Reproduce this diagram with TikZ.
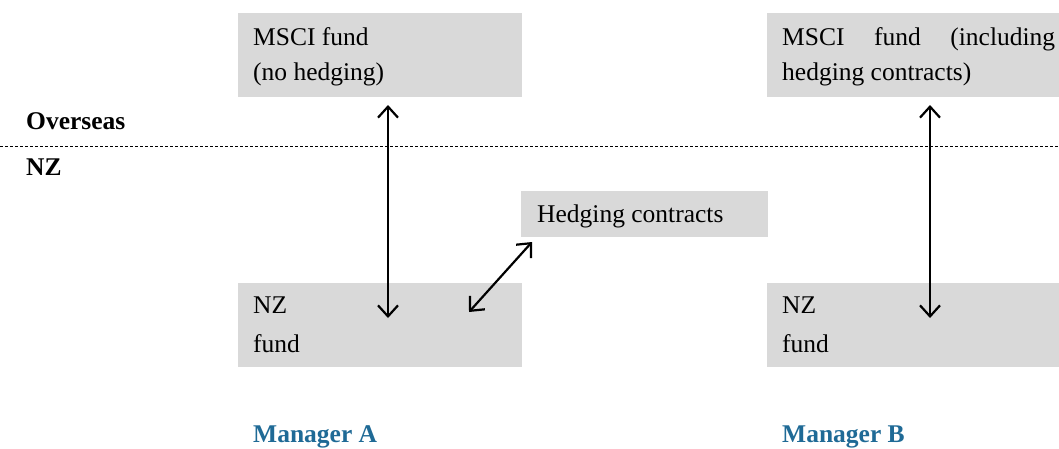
\documentclass[tikz,border=0pt]{standalone}
\usepackage{fontspec}
\setmainfont{Liberation Serif}
\usetikzlibrary{arrows.meta,calc}
\definecolor{boxgray}{RGB}{217,217,217}
\definecolor{mgrblue}{RGB}{31,106,150}
\begin{document}
\begin{tikzpicture}[x=1pt,y=-1pt,
  box/.style={fill=boxgray, draw=none, inner sep=0pt, outer sep=0pt, anchor=north west},
  txt/.style={anchor=base west, inner sep=0pt, font=\fontsize{25.5}{30}\selectfont},
  lbl/.style={anchor=base west, inner sep=0pt, font=\fontsize{25.5}{30}\selectfont\bfseries},
  mgr/.style={lbl, text=mgrblue},
  barb/.tip={Straight Barb[length=11pt,width=20pt]},
  arr/.style={line width=2.2pt, barb-barb}]
\useasboundingbox (0,0) rectangle (1059,448);
% boxes
\node[box, minimum width=284pt, minimum height=84pt] (msciA) at (238,13) {};
\node[box, minimum width=292pt, minimum height=84pt] (msciB) at (767,13) {};
\node[box, minimum width=247pt, minimum height=46pt] (hedge) at (521,191) {};
\node[box, minimum width=284pt, minimum height=84pt] (nzA) at (238,283) {};
\node[box, minimum width=292pt, minimum height=84pt] (nzB) at (767,283) {};
% box texts
\node[txt] (tA1) at (253,45) {MSCI fund};
\node[txt] (tA2) at (253,80) {(no hedging)};
\node[txt] (tB1) at (782,45) {\makebox[273pt][s]{MSCI fund (including}};
\node[txt] (tB2) at (782,80) {hedging contracts)};
\node[txt] (tH) at (537,222) {Hedging contracts};
\node[txt] (tnA1) at (253,313) {NZ};
\node[txt] (tnA2) at (253,352) {fund};
\node[txt] (tnB1) at (782,313) {NZ};
\node[txt] (tnB2) at (782,352) {fund};
% region labels and divider
\node[lbl] (over) at (26,129) {Overseas};
\node[lbl] (nz) at (26,175) {NZ};
\coordinate (divL) at (0,146);
\coordinate (divR) at (1059,146);
\draw[line width=0.8pt, dash pattern=on 3pt off 2pt] (divL) -- (divR);
% managers
\node[mgr] (mA) at (253,442) {Manager A};
\node[mgr] (mB) at (782,442) {Manager B};
% connectors
\coordinate (aTop) at ($(msciA.south west)+(150,8)$);
\coordinate (aBot) at ($(nzA.north west)+(150,35)$);
\coordinate (bTop) at ($(msciB.south west)+(163,8)$);
\coordinate (bBot) at ($(nzB.north west)+(163,35)$);
\coordinate (dNZ) at ($(nzA.north west)+(231,29)$);
\coordinate (dH) at ($(hedge.south west)+(11,5)$);
\draw[arr] (aTop) -- (aBot);
\draw[arr] (bTop) -- (bBot);
\draw[arr] (dNZ) -- (dH);
\end{tikzpicture}
\end{document}
